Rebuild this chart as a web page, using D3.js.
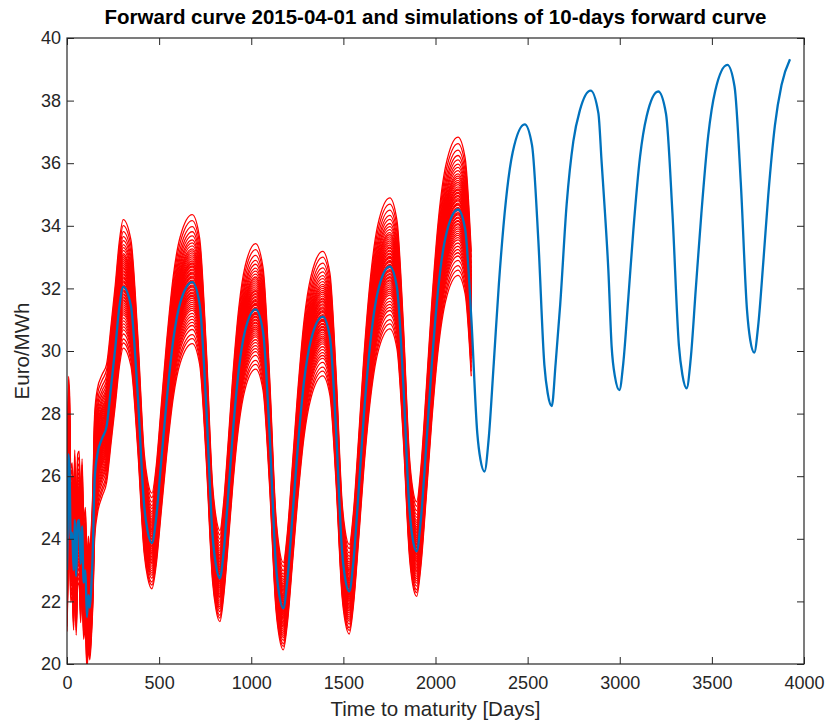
<!DOCTYPE html>
<html>
<head>
<meta charset="utf-8">
<script src="https://cdn.jsdelivr.net/npm/d3@7/dist/d3.min.js"></script>
<style>
  body { margin: 0; background: #fff; }
  svg text { font-family: "Liberation Sans", Arial, sans-serif; fill: #262626; }
</style>
</head>
<body>
<svg id="chart"></svg>
<script>
// forward curve 2015-04-01 (days to maturity / Euro per MWh)
const forwardDays = [
  0, 4, 8, 14, 20, 28, 36, 42, 50, 58, 66, 74, 82, 90, 100, 108, 116, 124, 132, 140,
  150, 165, 190, 215, 240, 262, 284, 305,
  347, 383, 419, 438, 461, 483, 511, 540, 577, 614, 680,
  720, 755, 790, 808, 830, 849, 875, 900, 933, 966, 1024,
  1064, 1099, 1134, 1152, 1174, 1195, 1223, 1251, 1287, 1324, 1388,
  1427, 1460, 1493, 1510, 1532, 1554, 1583, 1611, 1649, 1686, 1752,
  1791, 1825, 1859, 1876, 1898, 1920, 1950, 1979, 2017, 2055, 2122,
  2161, 2194, 2227, 2244, 2266, 2288, 2316, 2344, 2382, 2419, 2484,
  2524, 2558, 2591, 2609, 2631, 2652, 2677, 2712, 2748, 2784, 2842,
  2884, 2902, 2920, 2938, 2956, 2974, 2998, 3019, 3047, 3074, 3110, 3146, 3209,
  3251, 3286, 3321, 3340, 3363, 3385, 3413, 3443, 3480, 3518, 3584,
  3623, 3657, 3691, 3708, 3730, 3751, 3779, 3806, 3842, 3878, 3924
];
const forwardPrices = [
  23.0, 24.3, 26.7, 26.2, 24.0, 24.2, 23.0, 24.6, 22.8, 24.5, 24.6, 23.2, 24.4, 22.6, 23.0, 21.5, 22.2, 21.8, 22.5, 23.6,
  25.9, 26.7, 27.2, 27.6, 28.9, 30.1, 31.4, 32.05,
  31.44, 28.69, 25.05, 24.23, 23.86, 24.61, 26.45, 28.36, 30.37, 31.53, 32.2,
  31.49, 28.32, 24.11, 23.17, 22.74, 23.51, 25.40, 27.38, 29.44, 30.64, 31.33,
  30.61, 27.41, 23.16, 22.21, 21.78, 22.62, 24.67, 26.81, 29.05, 30.35, 31.1,
  30.44, 27.50, 23.59, 22.72, 22.32, 23.25, 25.54, 27.93, 30.42, 31.87, 32.7,
  32.02, 28.97, 24.92, 24.01, 23.6, 24.58, 26.99, 29.50, 32.12, 33.65, 34.52,
  33.89, 31.09, 27.36, 26.53, 26.15, 27.15, 29.59, 32.14, 34.80, 36.35, 37.24,
  36.57, 33.55, 29.55, 28.65, 28.24, 29.6, 31.5, 34.7, 36.7, 37.7, 38.32,
  37.6, 36.0, 34.4, 32.6, 30.14, 29.18, 28.75, 29.6, 31.73, 33.87, 36.2, 37.5, 38.29,
  37.58, 34.40, 30.18, 29.24, 28.81, 29.74, 32.01, 34.39, 36.87, 38.31, 39.14,
  38.45, 35.37, 31.28, 30.36, 29.95, 30.79, 32.83, 34.97, 37.2, 38.5, 39.32
];

// simulated 10-days forward curves: level of each simulation relative to the forward curve
const simFactors = [
  1.067, 1.061, 1.055, 1.050, 1.046, 1.042, 1.039, 1.036, 1.033, 1.031, 1.029, 1.027,
  1.025, 1.023, 1.021, 1.019, 1.018, 1.016, 1.015, 1.013, 1.012, 1.010, 1.009, 1.008,
  1.006, 1.005, 1.004, 1.002, 1.001, 1.000, 0.999, 0.997, 0.996, 0.995, 0.993, 0.992,
  0.990, 0.989, 0.987, 0.986, 0.984, 0.982, 0.980, 0.978, 0.976, 0.974, 0.972, 0.969,
  0.966, 0.963, 0.960, 0.957, 0.953, 0.948, 0.944, 0.939
];
const simLastDay = 2194;
// extra spread of the short maturities
const volDays = [0, 100, 250];
const volMult = [1.4, 1.3, 1.0];

const xTicks = [0, 500, 1000, 1500, 2000, 2500, 3000, 3500, 4000];
const yTicks = [20, 22, 24, 26, 28, 30, 32, 34, 36, 38, 40];

const width = 827;
const height = 722;
const margin = { top: 38, right: 23, bottom: 58, left: 67 };
const iw = width - margin.left - margin.right;
const ih = height - margin.top - margin.bottom;

const svg = d3.select('#chart')
  .attr('width', width)
  .attr('height', height);

const x = d3.scaleLinear().domain([0, 4000]).range([0, iw]);
const y = d3.scaleLinear().domain([20, 40]).range([ih, 0]);
const vol = d3.scaleLinear().domain(volDays).range(volMult).clamp(true);

const g = svg.append('g')
  .attr('transform', `translate(${margin.left},${margin.top})`);

g.append('clipPath').attr('id', 'clip')
  .append('rect').attr('width', iw).attr('height', ih);

const forward = forwardDays.map((d, i) => [d, forwardPrices[i]]);
const simBase = forward.filter(p => p[0] <= simLastDay);

const line = d3.line()
  .x(d => x(d[0]))
  .y(d => y(d[1]))
  .curve(d3.curveMonotoneX);

const plot = g.append('g').attr('clip-path', 'url(#clip)');

// simulations
plot.selectAll('path.sim')
  .data(simFactors)
  .enter().append('path')
  .attr('class', 'sim')
  .attr('fill', 'none')
  .attr('stroke', '#ff0000')
  .attr('stroke-width', 1.3)
  .attr('d', f => line(simBase.map(p => [p[0], p[1] * (1 + (f - 1) * vol(p[0]))])));

// forward curve
plot.append('path')
  .attr('fill', 'none')
  .attr('stroke', '#0072bd')
  .attr('stroke-width', 2.3)
  .attr('d', line(forward));

// axes, ticks pointing inwards like matlab
const tickStyle = sel => {
  sel.select('.domain').remove();
  sel.selectAll('line').attr('stroke', '#262626');
  sel.selectAll('text').attr('font-size', 18).attr('font-family', null).attr('fill', '#262626');
};

g.append('g')
  .attr('transform', `translate(0,${ih})`)
  .call(d3.axisBottom(x).tickValues(xTicks).tickSize(-7).tickPadding(12).tickFormat(d3.format('d')))
  .call(tickStyle);
g.append('g')
  .call(d3.axisTop(x).tickValues(xTicks).tickSize(-7).tickFormat(''))
  .call(tickStyle);
g.append('g')
  .call(d3.axisLeft(y).tickValues(yTicks).tickSize(-7).tickPadding(6).tickFormat(d3.format('d')))
  .call(tickStyle);
g.append('g')
  .attr('transform', `translate(${iw},0)`)
  .call(d3.axisRight(y).tickValues(yTicks).tickSize(-7).tickFormat(''))
  .call(tickStyle);

g.append('rect')
  .attr('width', iw)
  .attr('height', ih)
  .attr('fill', 'none')
  .attr('stroke', '#262626')
  .attr('stroke-width', 1.2);

// labels
svg.append('text')
  .attr('x', margin.left + iw / 2)
  .attr('y', 24)
  .attr('text-anchor', 'middle')
  .attr('font-size', 20.5)
  .attr('font-weight', 'bold')
  .style('fill', '#000')
  .text('Forward curve 2015-04-01 and simulations of 10-days forward curve');

svg.append('text')
  .attr('x', margin.left + iw / 2)
  .attr('y', 716)
  .attr('text-anchor', 'middle')
  .attr('font-size', 20.5)
  .text('Time to maturity [Days]');

svg.append('text')
  .attr('transform', `translate(29,${margin.top + ih / 2}) rotate(-90)`)
  .attr('text-anchor', 'middle')
  .attr('font-size', 20.5)
  .text('Euro/MWh');
</script>
</body>
</html>
